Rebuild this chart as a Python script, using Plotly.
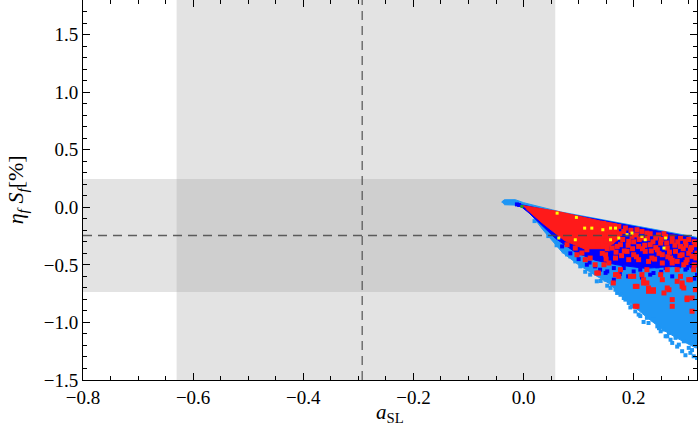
import plotly.graph_objects as go

# --- axis ranges and reference bands ---
x_range = [-0.8, 0.315]
y_range = [-1.5, 1.8]
band_x = [-0.630, 0.0576]
band_y = [-0.735, 0.245]
central_x = -0.293
central_y = -0.245
x_ticks = [-0.8, -0.6, -0.4, -0.2, 0.0, 0.2]
y_ticks = [-1.5, -1.0, -0.5, 0.0, 0.5, 1.0, 1.5]

# --- light blue cloud: outline of the dense part + loose points on the fringe ---
lb_edge_x = [-0.040, -0.035, -0.015, 0.000, 0.067, 0.139, 0.230, 0.330, 0.330, 0.312,
             0.280, 0.255, 0.230, 0.205, 0.180, 0.155, 0.130, 0.100, 0.070, 0.035,
             0.004, -0.010, -0.035]
lb_edge_y = [0.045, 0.065, 0.066, 0.040, -0.040, -0.102, -0.185, -0.275, -1.230, -1.220,
             -1.140, -1.070, -0.980, -0.880, -0.770, -0.660, -0.590, -0.500, -0.390, -0.195,
             0.000, 0.018, 0.022]
lb_x = [0.218, 0.227, 0.236, 0.243, 0.249, 0.255, 0.258, 0.264, 0.270, 0.276, 0.282, 0.291,
        0.294, 0.300, 0.303, 0.309, 0.312, 0.315, 0.185, 0.191, 0.197, 0.203, 0.167, 0.161,
        0.149, 0.209, 0.206, 0.261, 0.182, 0.170, 0.152, 0.133, 0.121, 0.103, 0.085, 0.073,
        0.224, 0.246, 0.267, 0.288, 0.306, 0.279, 0.212, 0.194, 0.176, 0.158, 0.140, 0.112,
        0.094, 0.079, 0.060, 0.045, 0.020]
lb_y = [-0.996, -1.005, -0.976, -1.034, -1.077, -1.062, -1.120, -1.091, -1.178, -1.134,
        -1.193, -1.164, -1.285, -1.221, -1.264, -1.294, -1.193, -1.308, -0.802, -0.831,
        -0.860, -0.904, -0.716, -0.672, -0.629, -0.932, -0.846, -1.120, -0.788, -0.744,
        -0.681, -0.643, -0.585, -0.513, -0.427, -0.383, -0.960, -1.050, -1.150, -1.250,
        -1.240, -1.210, -0.945, -0.870, -0.760, -0.700, -0.640, -0.560, -0.470, -0.410,
        -0.330, -0.250, -0.120]

# --- dark blue: dense band along the top of the wedge + loose points ---
db_edge_x = [-0.004, 0.067, 0.139, 0.230, 0.330, 0.330, 0.270, 0.220, 0.170, 0.130,
             0.094, 0.058, 0.010, -0.006]
db_edge_y = [0.022, -0.048, -0.110, -0.193, -0.285, -0.520, -0.515, -0.530, -0.500, -0.460,
             -0.390, -0.270, -0.050, 0.012]
db_x = [0.139, 0.152, 0.164, 0.182, 0.200, 0.212, 0.236, 0.243, 0.258, 0.282, 0.294, 0.306,
        0.315, 0.115, 0.130, 0.149, 0.230, 0.285, 0.297, 0.164, -0.012, -0.008, 0.100,
        0.085, 0.070, 0.120, 0.190, 0.250, 0.270, 0.310, 0.215, 0.175]
db_y = [-0.542, -0.557, -0.528, -0.528, -0.557, -0.542, -0.571, -0.513, -0.528, -0.513,
        -0.542, -0.513, -0.585, -0.499, -0.513, -0.570, -0.585, -0.484, -0.528, -0.629,
        0.025, 0.020, -0.450, -0.400, -0.340, -0.480, -0.600, -0.560, -0.600, -0.620,
        -0.610, -0.580]

# --- red: dense tip region + individual points ---
red_edge_x = [-0.002, 0.060, 0.140, 0.170, 0.175, 0.150, 0.110, 0.075, 0.035, 0.005]
red_edge_y = [0.015, -0.034, -0.120, -0.145, -0.270, -0.360, -0.360, -0.290, -0.140, -0.015]
red_x = [0.133, 0.139, 0.142, 0.136, 0.149, 0.158, 0.161, 0.167, 0.173, 0.176, 0.182, 0.188,
         0.191, 0.197, 0.200, 0.206, 0.209, 0.215, 0.221, 0.224, 0.230, 0.233, 0.240, 0.243,
         0.249, 0.252, 0.258, 0.261, 0.267, 0.270, 0.276, 0.279, 0.285, 0.288, 0.294, 0.297,
         0.303, 0.306, 0.312, 0.315, 0.291, 0.270, 0.252, 0.227, 0.209, 0.191, 0.167, 0.149,
         0.136, 0.170, 0.194, 0.203, 0.206, 0.215, 0.218, 0.227, 0.236, 0.255, 0.264, 0.270,
         0.279, 0.288, 0.297, 0.306, 0.312, 0.146, 0.155, 0.176, 0.224, 0.249, 0.261, 0.303,
         0.167, 0.173, 0.200, 0.206, 0.218, 0.224, 0.227, 0.236, 0.252, 0.261, 0.270, 0.279,
         0.288, 0.291, 0.297, 0.300, 0.306, 0.309, 0.163, 0.203, 0.285, 0.079, 0.094, 0.106,
         0.115, 0.121, 0.130, 0.133, 0.112, 0.097,
         0.145, 0.150, 0.155, 0.160, 0.165, 0.170, 0.175, 0.180, 0.185, 0.190, 0.195, 0.200,
         0.205, 0.210, 0.215, 0.220, 0.225, 0.230, 0.235, 0.240, 0.245, 0.250, 0.255, 0.260,
         0.265, 0.270, 0.275, 0.280, 0.285, 0.290, 0.295, 0.300, 0.305, 0.310, 0.313, 0.300,
         0.284, 0.262, 0.246, 0.232, 0.216, 0.198, 0.183, 0.168, 0.152, 0.143, 0.150, 0.178,
         0.205, 0.238, 0.270, 0.295, 0.310]
red_y = [-0.152, -0.195, -0.253, -0.325, -0.296, -0.224, -0.354, -0.267, -0.166, -0.325,
         -0.210, -0.383, -0.296, -0.253, -0.412, -0.195, -0.340, -0.267, -0.383, -0.224,
         -0.325, -0.441, -0.267, -0.369, -0.311, -0.412, -0.253, -0.354, -0.441, -0.296,
         -0.383, -0.470, -0.340, -0.412, -0.296, -0.455, -0.369, -0.426, -0.325, -0.398,
         -0.499, -0.484, -0.484, -0.470, -0.455, -0.455, -0.441, -0.412, -0.571, -0.585,
         -0.600, -0.687, -0.860, -0.585, -0.658, -0.701, -0.730, -0.744, -0.716, -0.802,
         -0.643, -0.687, -0.802, -0.903, -0.716, -0.499, -0.484, -0.542, -0.542, -0.585,
         -0.542, -0.629, -0.585, -0.600, -0.600, -0.687, -0.629, -0.657, -0.730, -0.716,
         -0.629, -0.701, -0.860, -0.542, -0.657, -0.701, -0.788, -0.629, -0.788, -0.542,
         -0.657, -0.860, -0.600, -0.325, -0.354, -0.397, -0.369, -0.441, -0.499, -0.571,
         -0.455, -0.412,
         -0.140, -0.170, -0.240, -0.300, -0.200, -0.340, -0.230, -0.280, -0.180, -0.330,
         -0.200, -0.300, -0.240, -0.280, -0.210, -0.330, -0.270, -0.230, -0.300, -0.350,
         -0.240, -0.280, -0.230, -0.310, -0.390, -0.260, -0.330, -0.300, -0.270, -0.360,
         -0.330, -0.280, -0.350, -0.300, -0.440, -0.400, -0.420, -0.430, -0.400, -0.380,
         -0.360, -0.360, -0.380, -0.390, -0.360, -0.400, -0.450, -0.420, -0.430, -0.450,
         -0.460, -0.480, -0.500]

# --- yellow and green points ---
yel_x = [0.144, 0.158, 0.167, 0.188, 0.197, 0.215, 0.221, 0.255, 0.258, 0.158, 0.173,
         0.096, 0.111, 0.064, 0.094, 0.061, 0.124]
yel_y = [-0.195, -0.181, -0.181, -0.238, -0.224, -0.253, -0.282, -0.354, -0.267, -0.282,
         -0.267, -0.088, -0.181, -0.267, -0.282, -0.051, -0.181]
grn_x = [-0.003]
grn_y = [0.007]

LIGHT = "#1E96F5"
DARK = "#0000FF"
RED = "#FF1A1A"
SERIF = "Liberation Serif"

fig = go.Figure()

def area(xs, ys, color):
    fig.add_trace(go.Scatter(x=xs, y=ys, mode="lines", fill="toself", fillcolor=color,
                             line=dict(color=color, width=1), hoverinfo="skip", showlegend=False))

def dots(xs, ys, color, size):
    fig.add_trace(go.Scatter(x=xs, y=ys, mode="markers", hoverinfo="skip", showlegend=False,
                             marker=dict(symbol="square", size=size, color=color, line=dict(width=0))))

area(lb_edge_x, lb_edge_y, LIGHT)
dots(lb_x, lb_y, LIGHT, 4)
area(db_edge_x, db_edge_y, DARK)
dots(db_x, db_y, DARK, 4)
area(red_edge_x, red_edge_y, RED)
dots(red_x, red_y, RED, 5)
dots(yel_x, yel_y, "#FFFF00", 3)
dots(grn_x, grn_y, "#1FA01F", 3)

# gray bands (overlap a bit darker)
shapes = [
    dict(type="rect", xref="x", yref="paper", x0=band_x[0], x1=band_x[1], y0=0, y1=1,
         fillcolor="#E3E3E3", line_width=0, layer="below"),
    dict(type="rect", xref="paper", yref="y", x0=0, x1=1, y0=band_y[0], y1=band_y[1],
         fillcolor="#E3E3E3", line_width=0, layer="below"),
    dict(type="rect", xref="x", yref="y", x0=band_x[0], x1=band_x[1], y0=band_y[0], y1=band_y[1],
         fillcolor="#CFCFCF", line_width=0, layer="below"),
    dict(type="line", xref="x", yref="paper", x0=central_x, x1=central_x, y0=0, y1=1,
         line=dict(color="rgba(70,70,70,0.85)", width=1.3, dash="9px,6px"), layer="above"),
    dict(type="line", xref="paper", yref="y", x0=0, x1=1, y0=central_y, y1=central_y,
         line=dict(color="rgba(70,70,70,0.85)", width=1.3, dash="9px,6px"), layer="above"),
]

axis_common = dict(showline=True, linecolor="black", linewidth=1, mirror="allticks",
                   ticks="inside", ticklen=7, tickcolor="black", showgrid=False, zeroline=False,
                   automargin=False,
                   tickfont=dict(family=SERIF, size=19, color="black"), tickformat=".1f")

fig.update_layout(
    width=700, height=445,
    margin=dict(l=83, r=3, t=0, b=65),
    plot_bgcolor="white", paper_bgcolor="white",
    font=dict(family=SERIF, color="black"),
    shapes=shapes,
    xaxis=dict(range=x_range, tickvals=x_ticks,
               minor=dict(dtick=0.05, tick0=0, ticks="inside", ticklen=4, tickcolor="black"),
               **axis_common),
    yaxis=dict(range=y_range, tickvals=y_ticks,
               minor=dict(dtick=0.1, tick0=0, ticks="inside", ticklen=4, tickcolor="black"),
               **axis_common),
    annotations=[
        dict(text="<i>a</i><sub>SL</sub>", xref="paper", yref="paper", x=0.5, y=-0.088,
             xanchor="center", yanchor="middle", showarrow=False,
             font=dict(family=SERIF, size=21, color="black")),
        dict(text="<i>η<sub>f</sub> S<sub>f</sub></i>[%]", xref="paper", yref="paper",
             x=-0.107, y=0.5, xanchor="center", yanchor="middle", textangle=-90, showarrow=False,
             font=dict(family=SERIF, size=22, color="black")),
    ],
)

# the page body has a default 8px margin; remove it so the figure sits at the window origin
fig.write_html("out.html", config={"displayModeBar": False},
               post_script="document.body.style.margin='0';")
